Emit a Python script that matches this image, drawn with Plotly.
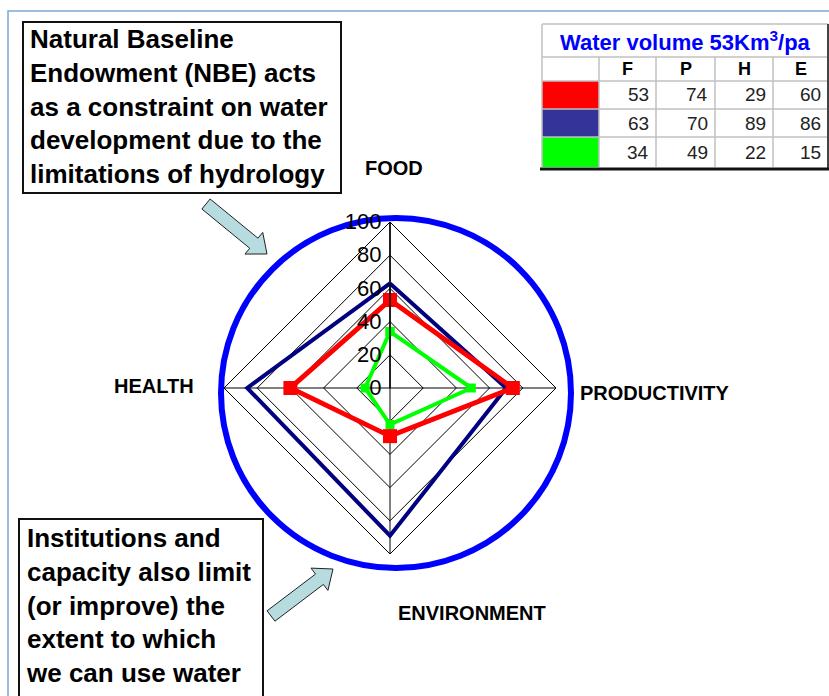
import plotly.graph_objects as go

# ---------------- data ----------------
categories = ["FOOD", "PRODUCTIVITY", "ENVIRONMENT", "HEALTH"]
table_cols = ["F", "P", "H", "E"]
series_red = [53, 74, 29, 60]
series_blue = [63, 70, 89, 86]
series_green = [34, 49, 22, 15]
radial_ticks = [0, 20, 40, 60, 80, 100]
table_title = "Water volume 53Km<sup>3</sup>/pa"
note_top = ["Natural Baseline", "Endowment (NBE) acts", "as a constraint on water",
            "development due to the", "limitations of hydrology"]
note_bottom = ["Institutions and", "capacity also limit", "(or improve) the",
               "extent to which", "we can use water"]

# ---------------- helpers (pixel -> paper) ----------------
W, H = 829, 696
def px(x):
    return x / W
def py(y):
    return 1 - y / H

FONT = "Liberation Sans"

fig = go.Figure()

def closed(v):
    return list(v) + [v[0]]

theta = closed(categories)
fig.add_trace(go.Scatterpolar(r=closed(series_blue), theta=theta, mode="lines",
                              line=dict(color="#000080", width=4), hoverinfo="skip"))
fig.add_trace(go.Scatterpolar(r=closed(series_red), theta=theta, mode="lines+markers",
                              line=dict(color="#ff0000", width=5),
                              marker=dict(symbol="square", size=14, color="#ff0000"), hoverinfo="skip"))
fig.add_trace(go.Scatterpolar(r=closed(series_green), theta=theta, mode="lines+markers",
                              line=dict(color="#00ff00", width=4),
                              marker=dict(symbol="square", size=9, color="#00ff00"), hoverinfo="skip"))

# radar centre (390,388) radius 166 px
cx, cy, R = 390, 388, 166
fig.update_layout(
    width=W, height=H, autosize=False,
    margin=dict(l=0, r=0, t=0, b=0),
    paper_bgcolor="white",
    showlegend=False,
    polar=dict(
        domain=dict(x=[px(cx - R), px(cx + R)], y=[py(cy + R), py(cy - R)]),
        bgcolor="rgba(0,0,0,0)",
        gridshape="linear",
        angularaxis=dict(type="category", categoryarray=categories, direction="clockwise",
                         rotation=90, showticklabels=False, ticks="",
                         showgrid=True, gridcolor="black", gridwidth=1,
                         showline=True, linecolor="black", linewidth=1),
        radialaxis=dict(range=[0, 100], tickvals=radial_ticks, angle=90,
                        side="counterclockwise", showline=True, linecolor="black",
                        linewidth=1.5, showgrid=True, gridcolor="black", gridwidth=1,
                        ticks="", tickangle=90,
                        tickfont=dict(family=FONT, size=22, color="black")),
    ),
)

shapes = []
annotations = []

# page frame
shapes.append(dict(type="rect", xref="paper", yref="paper", x0=px(8), x1=px(840),
                   y0=py(710), y1=py(11), line=dict(color="#7ea6d8", width=1.5), layer="below"))

# outer blue circle
ccx, ccy, cr = 396, 393, 175
shapes.append(dict(type="circle", xref="paper", yref="paper",
                   x0=px(ccx - cr), x1=px(ccx + cr), y0=py(ccy + cr), y1=py(ccy - cr),
                   line=dict(color="#0000ff", width=6), layer="below"))

# category labels
label_pos = [(394, 168), (655, 393), (472, 613), (154, 386)]
for lab, (lx, ly) in zip(categories, label_pos):
    annotations.append(dict(text=lab, x=px(lx), y=py(ly), xref="paper", yref="paper",
                            showarrow=False, xanchor="center", yanchor="middle",
                            font=dict(family=FONT, size=20, color="black", weight="bold")))

# text boxes
def text_box(lines, x0, y0, x1, y1, tx, ty):
    shapes.append(dict(type="rect", xref="paper", yref="paper", x0=px(x0), x1=px(x1),
                       y0=py(y1), y1=py(y0), line=dict(color="#111111", width=2),
                       fillcolor="white"))
    annotations.append(dict(text="<br>".join(lines), x=px(tx), y=py(ty), xref="paper",
                            yref="paper", showarrow=False, xanchor="left", yanchor="middle",
                            align="left",
                            font=dict(family=FONT, size=26, color="black", weight="bold")))

text_box(note_top, 23, 22, 341, 193, 28, 106)
text_box(note_bottom, 19, 519, 263, 697, 24, 605)

# block arrows
def block_arrow(tail, tip, sw=13, hw=28, hl=17):
    dx, dy = tip[0] - tail[0], tip[1] - tail[1]
    L = (dx * dx + dy * dy) ** 0.5
    ux, uy = dx / L, dy / L
    nx, ny = -uy, ux
    neck = (tip[0] - ux * hl, tip[1] - uy * hl)
    pts = [
        (tail[0] + nx * sw / 2, tail[1] + ny * sw / 2),
        (neck[0] + nx * sw / 2, neck[1] + ny * sw / 2),
        (neck[0] + nx * hw / 2, neck[1] + ny * hw / 2),
        tip,
        (neck[0] - nx * hw / 2, neck[1] - ny * hw / 2),
        (neck[0] - nx * sw / 2, neck[1] - ny * sw / 2),
        (tail[0] - nx * sw / 2, tail[1] - ny * sw / 2),
    ]
    path = "M " + " L ".join(f"{px(a):.5f},{py(b):.5f}" for a, b in pts) + " Z"
    shapes.append(dict(type="path", xref="paper", yref="paper", path=path,
                       fillcolor="#b6dcdf", line=dict(color="#222222", width=1)))

block_arrow((206, 204), (267, 254))
block_arrow((271, 616), (333, 569))

# ---------------- table ----------------
col_x = [542, 599, 656, 715, 773, 828]
row_y = [24, 57, 81, 109, 137, 167]
grid_c = "#c0c0c0"
swatches = ["#ff0000", "#333399", "#00ff00"]
series_rows = [series_red, series_blue, series_green]

for i, c in enumerate(swatches):
    shapes.append(dict(type="rect", xref="paper", yref="paper", x0=px(col_x[0]), x1=px(col_x[1]),
                       y0=py(row_y[i + 3]), y1=py(row_y[i + 2]), fillcolor=c,
                       line=dict(width=0)))
for y in row_y[:-1]:
    shapes.append(dict(type="line", xref="paper", yref="paper", x0=px(col_x[0]), x1=px(col_x[-1]),
                       y0=py(y), y1=py(y), line=dict(color=grid_c, width=1.5)))
for x in col_x[:-1]:
    top = row_y[0] if x == col_x[0] else row_y[1]
    shapes.append(dict(type="line", xref="paper", yref="paper", x0=px(x), x1=px(x),
                       y0=py(row_y[-1]), y1=py(top), line=dict(color=grid_c, width=1.5)))
shapes.append(dict(type="line", xref="paper", yref="paper", x0=px(828), x1=px(828),
                   y0=py(170), y1=py(24), line=dict(color="#444444", width=2)))
shapes.append(dict(type="line", xref="paper", yref="paper", x0=px(540), x1=px(829),
                   y0=py(169), y1=py(169), line=dict(color="#111111", width=3)))

annotations.append(dict(text=table_title, x=px((col_x[0] + col_x[-1]) / 2), y=py((row_y[0] + row_y[1]) / 2),
                        xref="paper", yref="paper", showarrow=False, xanchor="center", yanchor="middle",
                        font=dict(family=FONT, size=22, color="#0000ff", weight="bold")))
for j, h in enumerate(table_cols):
    annotations.append(dict(text=h, x=px((col_x[j + 1] + col_x[j + 2]) / 2), y=py((row_y[1] + row_y[2]) / 2),
                            xref="paper", yref="paper", showarrow=False, xanchor="center", yanchor="middle",
                            font=dict(family=FONT, size=18, color="black", weight="bold")))
for i, vals in enumerate(series_rows):
    for j, v in enumerate(vals):
        annotations.append(dict(text=str(v), x=px(col_x[j + 2] - 5), y=py((row_y[i + 2] + row_y[i + 3]) / 2),
                                xref="paper", yref="paper", showarrow=False, xanchor="right",
                                yanchor="middle",
                                font=dict(family=FONT, size=19, color="#222222")))

fig.update_layout(shapes=shapes, annotations=annotations)
fig.write_html("out.html", config={"displayModeBar": False},
               post_script="document.body.style.margin='0';")
